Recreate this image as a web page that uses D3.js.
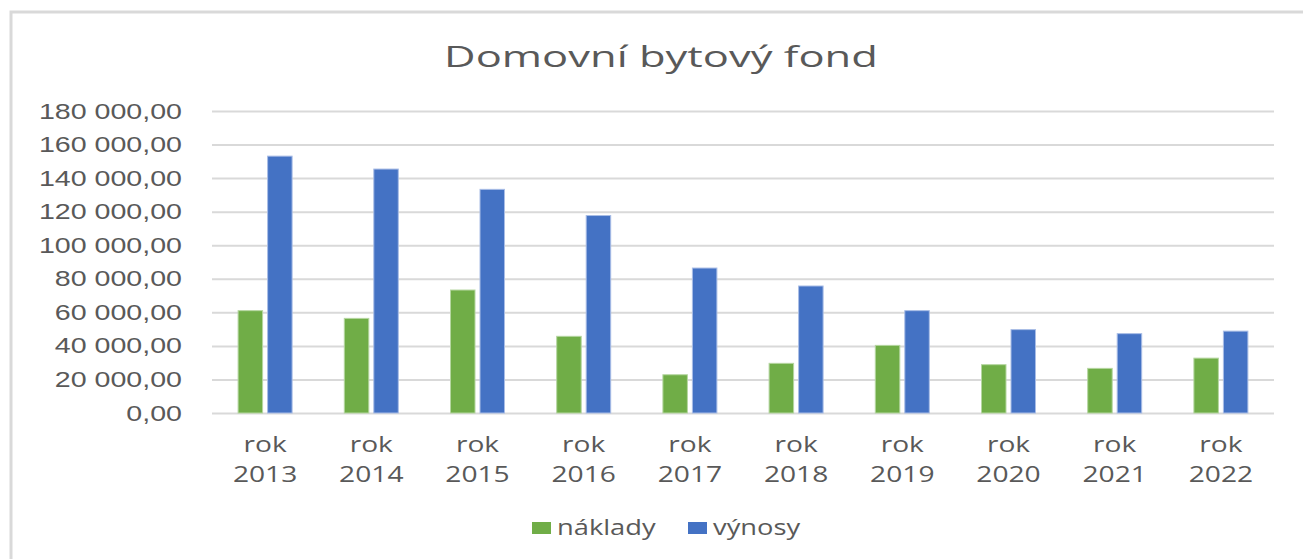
<!DOCTYPE html>
<html>
<head>
<meta charset="utf-8">
<script src="https://cdn.jsdelivr.net/npm/d3@7.9.0/dist/d3.min.js"></script>
<style>
  body { margin: 0; background: #fff; }
  svg { display: block; font-family: "Open Sans", sans-serif; }
</style>
</head>
<body>
<div id="chart"></div>
<script>
// data
const years = ['2013', '2014', '2015', '2016', '2017', '2018', '2019', '2020', '2021', '2022'];
const naklady = [61000, 56400, 73300, 45700, 22800, 29600, 40300, 28800, 26600, 32700];
const vynosy = [153100, 145400, 133300, 117700, 86400, 75700, 61000, 49700, 47300, 48800];
const yTicks = [0, 20000, 40000, 60000, 80000, 100000, 120000, 140000, 160000, 180000];
const seriesNames = ['náklady', 'výnosy'];
const colors = ['#70ad47', '#4472c4'];

const W = 1303, H = 559;
const margin = { top: 111, right: 29, bottom: 146, left: 212 };
const sx = 1.3; // text in the source is stretched horizontally
const textColor = '#595959';

const svg = d3.select('#chart').append('svg')
  .attr('width', W).attr('height', H);

// chart frame
svg.append('rect')
  .attr('x', 11).attr('y', 12)
  .attr('width', W + 20).attr('height', H + 20)
  .attr('fill', '#fff')
  .attr('stroke', '#d9d9d9').attr('stroke-width', 3);

// title
svg.append('text')
  .attr('transform', `translate(661, 67) scale(1.45,1)`)
  .attr('text-anchor', 'middle')
  .attr('font-size', 30)
  .attr('fill', textColor)
  .text('Domovní bytový fond');

const x = d3.scaleBand()
  .domain(years)
  .range([margin.left, W - margin.right]);
const y = d3.scaleLinear()
  .domain([0, 180000])
  .range([H - margin.bottom, margin.top]);

const cz = d3.formatLocale({ decimal: ',', thousands: ' ', grouping: [3], currency: ['', ' Kč'] });
const fmt = cz.format(',.2f');

// gridlines + y labels
const yAxis = svg.append('g')
  .attr('transform', `translate(${margin.left},0)`)
  .call(d3.axisLeft(y).tickValues(yTicks).tickFormat(fmt)
    .tickSize(-(W - margin.left - margin.right)).tickPadding(0));
yAxis.select('.domain').remove();
yAxis.selectAll('.tick line')
  .attr('stroke', '#d9d9d9').attr('stroke-width', 2);
yAxis.selectAll('.tick text')
  .attr('x', null)
  .attr('transform', `translate(-30,0) scale(${sx},1)`)
  .attr('font-size', 22)
  .attr('fill', textColor);

// bars
const barW = 24.5, gap = 5;
const groups = svg.append('g').selectAll('g')
  .data(years.map((yr, i) => ({ yr, vals: [naklady[i], vynosy[i]] })))
  .join('g')
  .attr('transform', d => `translate(${x(d.yr) + x.bandwidth() / 2},0)`);
groups.selectAll('rect')
  .data(d => d.vals.map((v, k) => ({ v, k })))
  .join('rect')
  .attr('x', d => d.k === 0 ? -gap / 2 - barW : gap / 2)
  .attr('y', d => y(d.v))
  .attr('width', barW)
  .attr('height', d => y(0) - y(d.v))
  .attr('fill', d => colors[d.k])
  .attr('stroke', d => d.k === 0 ? '#b5d6a0' : '#a9bde6')
  .attr('stroke-width', 1);

// x labels
const xl = svg.append('g').selectAll('g')
  .data(years).join('g')
  .attr('transform', d => `translate(${x(d) + x.bandwidth() / 2},0)`);
xl.append('text')
  .attr('transform', `translate(0,452) scale(1.28,1)`)
  .attr('text-anchor', 'middle').attr('font-size', 22).attr('fill', textColor)
  .text('rok');
xl.append('text')
  .attr('transform', `translate(0,482) scale(1.28,1)`)
  .attr('text-anchor', 'middle').attr('font-size', 22).attr('fill', textColor)
  .text(d => d);

// legend
const legendX = [532, 688];
const leg = svg.append('g').selectAll('g')
  .data(seriesNames).join('g')
  .attr('transform', (d, i) => `translate(${legendX[i]},522)`);
leg.append('rect')
  .attr('width', 19).attr('height', 12)
  .attr('fill', (d, i) => colors[i]);
leg.append('text')
  .attr('transform', `translate(25,13) scale(1.3,1)`)
  .attr('font-size', 21).attr('fill', textColor)
  .text(d => d);
</script>
</body>
</html>
